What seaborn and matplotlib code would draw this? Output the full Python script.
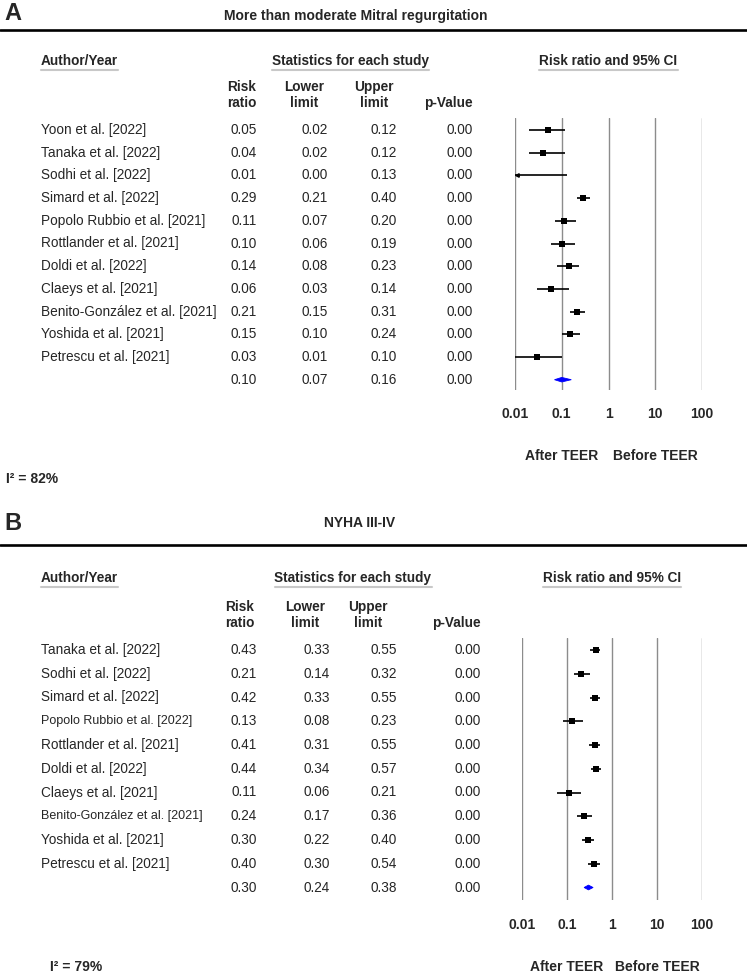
import matplotlib.pyplot as plt
import matplotlib.transforms as mtransforms
from matplotlib.lines import Line2D
from matplotlib.ticker import NullLocator
import seaborn as sns
import numpy as np
import pandas as pd

W, H = 747, 977

# panel A: more than moderate mitral regurgitation
mr_authors = ['Yoon et al. [2022]', 'Tanaka et al. [2022]', 'Sodhi et al. [2022]',
              'Simard et al. [2022]', 'Popolo Rubbio et al. [2021]',
              'Rottlander et al. [2021]', 'Doldi et al. [2022]',
              'Claeys et al. [2021]', 'Benito-González et al. [2021]',
              'Yoshida et al. [2021]', 'Petrescu et al. [2021]']
mr_rr = [0.05, 0.04, 0.01, 0.29, 0.11, 0.10, 0.14, 0.06, 0.21, 0.15, 0.03]
mr_lower = [0.02, 0.02, 0.00, 0.21, 0.07, 0.06, 0.08, 0.03, 0.15, 0.10, 0.01]
mr_upper = [0.12, 0.12, 0.13, 0.40, 0.20, 0.19, 0.23, 0.14, 0.31, 0.24, 0.10]
mr_p = [0.00, 0.00, 0.00, 0.00, 0.00, 0.00, 0.00, 0.00, 0.00, 0.00, 0.00]
mr_pooled = [0.10, 0.07, 0.16, 0.00]  # rr, lower, upper, p
mr_i2 = 82

# panel B: NYHA III-IV
nyha_authors = ['Tanaka et al. [2022]', 'Sodhi et al. [2022]', 'Simard et al. [2022]',
                'Popolo Rubbio et al. [2022]', 'Rottlander et al. [2021]',
                'Doldi et al. [2022]', 'Claeys et al. [2021]',
                'Benito-González et al. [2021]', 'Yoshida et al. [2021]',
                'Petrescu et al. [2021]']
nyha_rr = [0.43, 0.21, 0.42, 0.13, 0.41, 0.44, 0.11, 0.24, 0.30, 0.40]
nyha_lower = [0.33, 0.14, 0.33, 0.08, 0.31, 0.34, 0.06, 0.17, 0.22, 0.30]
nyha_upper = [0.55, 0.32, 0.55, 0.23, 0.55, 0.57, 0.21, 0.36, 0.40, 0.54]
nyha_p = [0.00, 0.00, 0.00, 0.00, 0.00, 0.00, 0.00, 0.00, 0.00, 0.00]
nyha_pooled = [0.30, 0.24, 0.38, 0.00]
nyha_i2 = 79

tick_vals = [0.01, 0.1, 1, 10, 100]
tick_labels = ['0.01', '0.1', '1', '10', '100']

sns.set_style('white')
plt.rcParams['font.family'] = ['Liberation Sans', 'DejaVu Sans']

fig = plt.figure(figsize=(W / 100, H / 100), dpi=100)


def fx(px):
    return px / W


def fy(py):
    return 1 - py / H


def draw_panel(letter, title, authors, rr, lower, upper, pvals, pooled, i2, lay):
    n = len(authors)
    df = pd.DataFrame({'author': authors, 'rr': rr, 'lower': lower,
                       'upper': upper, 'p': pvals, 'row': np.arange(n)})
    y0, step = lay['row0'], lay['step']
    top_row = (lay['ax_top'] - y0) / step
    bot_row = (lay['ax_bottom'] - y0) / step

    # panel letter, title and the thick rule
    fig.text(fx(4), fy(lay['letter_y']), letter, fontsize=17, fontweight='bold',
             va='center', ha='left')
    fig.text(fx(lay['title_x']), fy(lay['title_y']), title, fontsize=10,
             fontweight='bold', va='center', ha='center')
    fig.add_artist(Line2D([0, 1], [fy(lay['rule_y'])] * 2,
                          transform=fig.transFigure, color='k', lw=1.9))

    # column headers
    hy = lay['head_y']
    heads = [fig.text(fx(41), fy(hy), 'Author/Year', fontsize=9.8, fontweight='bold',
                      ha='left', va='center'),
             fig.text(fx(lay['stats_x']), fy(hy), 'Statistics for each study',
                      fontsize=9.8, fontweight='bold', ha='center', va='center'),
             fig.text(fx((lay['ax_left'] + lay['ax_right']) / 2), fy(hy),
                      'Risk ratio and 95% CI', fontsize=9.8, fontweight='bold',
                      ha='center', va='center')]
    sub_y = lay['sub_y']
    for lbl, cx in zip(['Risk\nratio', 'Lower\nlimit', 'Upper\nlimit', 'p-Value'],
                       lay['head_x']):
        yy = sub_y if '\n' in lbl else sub_y + 8
        fig.text(fx(cx), fy(yy), lbl, fontsize=9.8, fontweight='bold',
                 ha='center', va='center', linespacing=1.1)

    # forest axes
    ax = fig.add_axes([fx(lay['ax_left']), fy(lay['ax_bottom']),
                       (lay['ax_right'] - lay['ax_left']) / W,
                       (lay['ax_bottom'] - lay['ax_top']) / H])
    ax.set_xscale('log')
    for v in tick_vals:
        ax.axvline(v, color='#8c8c8c', lw=1.0, zorder=0)
    lo_clip = df['lower'].clip(lower=tick_vals[0])
    ax.hlines(df['row'], lo_clip, df['upper'], color='k', lw=1.2, zorder=2)
    on_scale = df[df['rr'] > tick_vals[0]]
    sns.scatterplot(data=on_scale, x='rr', y='row', marker='s', s=lay['sq'],
                    color='k', linewidth=0, ax=ax, legend=False, zorder=3)
    off = df[df['lower'] < tick_vals[0]]
    ax.plot(np.full(len(off), tick_vals[0] * 1.08), off['row'], ls='none',
            marker='<', ms=2.5, color='k', zorder=3)
    # pooled diamond
    p_rr, p_lo, p_hi, p_p = pooled
    h = 0.1
    ax.fill([p_lo, p_rr, p_hi, p_rr], [n, n - h, n, n + h], color='#0000ff',
            lw=0.6, edgecolor='#0000ff', zorder=3)

    ax.set_xlim(tick_vals[0], tick_vals[-1])
    ax.set_ylim(bot_row, top_row)
    ax.set_xticks(tick_vals)
    ax.set_xticklabels(tick_labels, fontsize=10, fontweight='bold')
    ax.xaxis.set_minor_locator(NullLocator())
    ax.tick_params(axis='x', length=0, pad=lay['tick_pad'])
    ax.set_yticks([])
    ax.set_xlabel('')
    ax.set_ylabel('')
    for s in ax.spines.values():
        s.set_visible(False)
    ax.patch.set_alpha(0)

    # study rows as text, aligned to the forest rows
    trans = mtransforms.blended_transform_factory(fig.transFigure, ax.transData)
    rows = list(df.itertuples()) + [None]
    for i, r in enumerate(rows):
        if r is None:
            vals = pooled
            name = ''
        else:
            vals = [r.rr, r.lower, r.upper, r.p]
            name = r.author
        if name:
            fs = lay['small_fs'] if len(name) > lay['long_name'] else 9.8
            ax.text(fx(41), i, name, transform=trans, ha='left', va='center',
                    fontsize=fs)
        for v, rx in zip(vals, lay['val_right']):
            ax.text(fx(rx), i, f'{v:.2f}', transform=trans, ha='right',
                    va='center', fontsize=9.8)

    xtrans = mtransforms.blended_transform_factory(ax.transData, fig.transFigure)
    ax.text(0.1, fy(lay['teer_y']), 'After TEER', transform=xtrans, ha='center',
            va='center', fontsize=10, fontweight='bold')
    ax.text(10, fy(lay['teer_y']), 'Before TEER', transform=xtrans, ha='center',
            va='center', fontsize=10, fontweight='bold')
    fig.text(fx(lay['i2_x']), fy(lay['i2_y']), f'I² = {i2}%', fontsize=10,
             fontweight='bold', ha='left', va='center')
    return heads


layout_a = dict(letter_y=13, title_y=16, rule_y=30, head_y=61, sub_y=95,
                title_x=356, stats_x=350, row0=130, step=22.7,
                ax_top=118, ax_bottom=390, ax_left=515, ax_right=702, tick_pad=12.5,
                head_x=[242, 304, 374, 448], val_right=[257, 328, 397, 473],
                sq=24, teer_y=456, i2_x=6, i2_y=479, long_name=40, small_fs=9.8)
layout_b = dict(letter_y=524, title_y=523, rule_y=545, head_y=578, sub_y=615,
                title_x=360, stats_x=353, row0=650, step=23.75,
                ax_top=638, ax_bottom=900, ax_left=522, ax_right=702, tick_pad=13,
                head_x=[240, 305, 368, 456], val_right=[257, 330, 397, 481],
                sq=18, teer_y=967, i2_x=50, i2_y=967, long_name=25, small_fs=9.0)

heads = draw_panel('A', 'More than moderate Mitral regurgitation', mr_authors,
                   mr_rr, mr_lower, mr_upper, mr_p, mr_pooled, mr_i2, layout_a)
heads += draw_panel('B', 'NYHA III-IV', nyha_authors, nyha_rr, nyha_lower,
                    nyha_upper, nyha_p, nyha_pooled, nyha_i2, layout_b)

# light grey underline below the column headers
fig.canvas.draw()
renderer = fig.canvas.get_renderer()
for t in heads:
    bb = t.get_window_extent(renderer)
    yline = (bb.y0 - 1.5) / H
    fig.add_artist(Line2D([bb.x0 / W, bb.x1 / W], [yline, yline],
                          transform=fig.transFigure, color='#c8c8c8', lw=1.5))

fig.savefig('out.png', dpi=100)
